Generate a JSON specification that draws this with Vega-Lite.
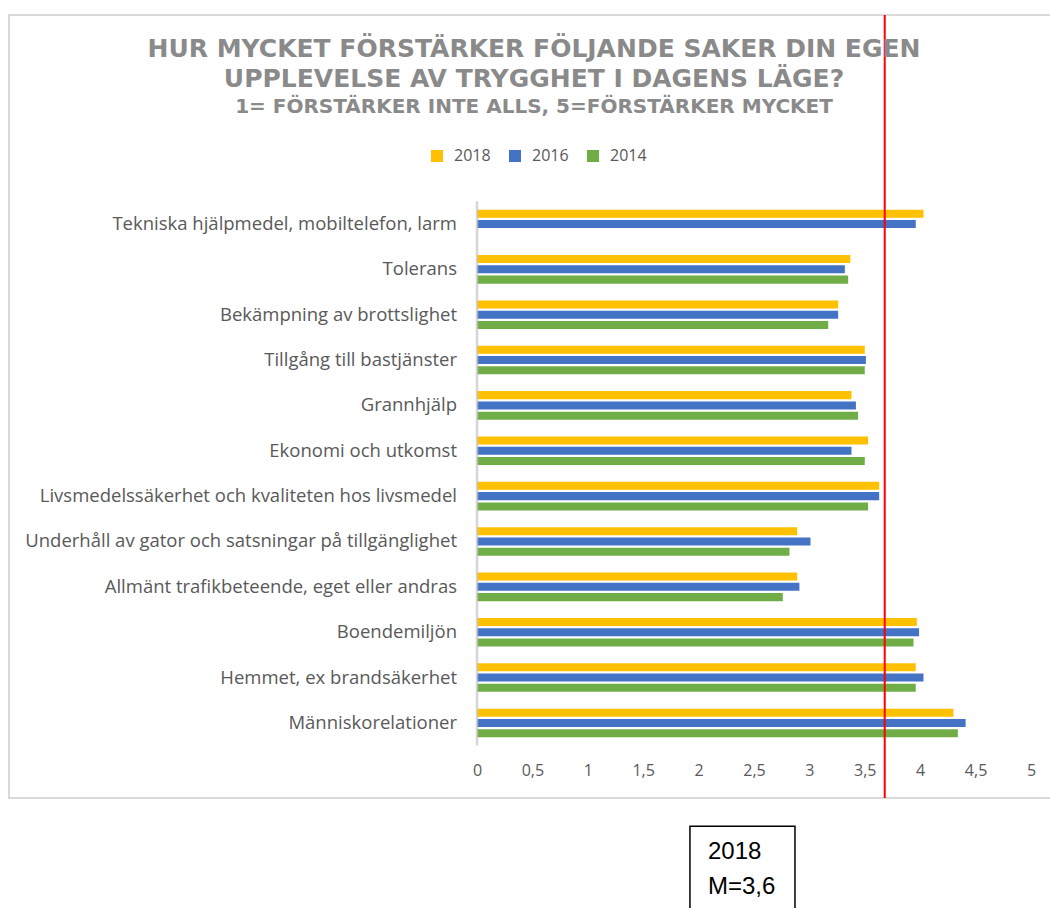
{
  "$schema": "https://vega.github.io/schema/vega-lite/v6.json",
  "padding": {"left": 8, "top": 13, "right": 0, "bottom": 0},
  "spacing": 0,
  "background": "white",
  "config": {"view": {"stroke": null}, "font": "Open Sans"},
  "vconcat": [
    {
      "width": 1050,
      "height": 783,
      "view": {"stroke": "#d9d9d9", "strokeWidth": 2},
      "title": {
        "text": ["HUR MYCKET FÖRSTÄRKER FÖLJANDE SAKER DIN EGEN", "UPPLEVELSE AV TRYGGHET I DAGENS LÄGE?"],
        "subtitle": "1= FÖRSTÄRKER INTE ALLS, 5=FÖRSTÄRKER MYCKET",
        "anchor": "middle",
        "frame": "group",
        "offset": -103,
        "font": "DejaVu Sans",
        "fontSize": 25,
        "fontWeight": "bold",
        "color": "#8a8a8a",
        "lineHeight": 30,
        "subtitleFont": "DejaVu Sans",
        "subtitleFontSize": 20,
        "subtitleFontWeight": "bold",
        "subtitleColor": "#8a8a8a",
        "subtitlePadding": 5
      },
      "data": {"values": [
        {"kategori": "Tekniska hjälpmedel, mobiltelefon, larm", "ar": "2018", "medel": 4.03},
        {"kategori": "Tekniska hjälpmedel, mobiltelefon, larm", "ar": "2016", "medel": 3.96},
        {"kategori": "Tolerans", "ar": "2018", "medel": 3.37},
        {"kategori": "Tolerans", "ar": "2016", "medel": 3.32},
        {"kategori": "Tolerans", "ar": "2014", "medel": 3.35},
        {"kategori": "Bekämpning av brottslighet", "ar": "2018", "medel": 3.26},
        {"kategori": "Bekämpning av brottslighet", "ar": "2016", "medel": 3.26},
        {"kategori": "Bekämpning av brottslighet", "ar": "2014", "medel": 3.17},
        {"kategori": "Tillgång till bastjänster", "ar": "2018", "medel": 3.50},
        {"kategori": "Tillgång till bastjänster", "ar": "2016", "medel": 3.51},
        {"kategori": "Tillgång till bastjänster", "ar": "2014", "medel": 3.50},
        {"kategori": "Grannhjälp", "ar": "2018", "medel": 3.38},
        {"kategori": "Grannhjälp", "ar": "2016", "medel": 3.42},
        {"kategori": "Grannhjälp", "ar": "2014", "medel": 3.44},
        {"kategori": "Ekonomi och utkomst", "ar": "2018", "medel": 3.53},
        {"kategori": "Ekonomi och utkomst", "ar": "2016", "medel": 3.38},
        {"kategori": "Ekonomi och utkomst", "ar": "2014", "medel": 3.50},
        {"kategori": "Livsmedelssäkerhet och kvaliteten hos livsmedel", "ar": "2018", "medel": 3.63},
        {"kategori": "Livsmedelssäkerhet och kvaliteten hos livsmedel", "ar": "2016", "medel": 3.63},
        {"kategori": "Livsmedelssäkerhet och kvaliteten hos livsmedel", "ar": "2014", "medel": 3.53},
        {"kategori": "Underhåll av gator och satsningar på tillgänglighet", "ar": "2018", "medel": 2.89},
        {"kategori": "Underhåll av gator och satsningar på tillgänglighet", "ar": "2016", "medel": 3.01},
        {"kategori": "Underhåll av gator och satsningar på tillgänglighet", "ar": "2014", "medel": 2.82},
        {"kategori": "Allmänt trafikbeteende, eget eller andras", "ar": "2018", "medel": 2.89},
        {"kategori": "Allmänt trafikbeteende, eget eller andras", "ar": "2016", "medel": 2.91},
        {"kategori": "Allmänt trafikbeteende, eget eller andras", "ar": "2014", "medel": 2.76},
        {"kategori": "Boendemiljön", "ar": "2018", "medel": 3.97},
        {"kategori": "Boendemiljön", "ar": "2016", "medel": 3.99},
        {"kategori": "Boendemiljön", "ar": "2014", "medel": 3.94},
        {"kategori": "Hemmet, ex brandsäkerhet", "ar": "2018", "medel": 3.96},
        {"kategori": "Hemmet, ex brandsäkerhet", "ar": "2016", "medel": 4.03},
        {"kategori": "Hemmet, ex brandsäkerhet", "ar": "2014", "medel": 3.96},
        {"kategori": "Människorelationer", "ar": "2018", "medel": 4.30},
        {"kategori": "Människorelationer", "ar": "2016", "medel": 4.41},
        {"kategori": "Människorelationer", "ar": "2014", "medel": 4.34}
      ]},
      "layer": [
        {
          "mark": {"type": "bar"},
          "encoding": {
            "y": {
              "field": "kategori", "type": "nominal", "sort": null, "axis": null,
              "scale": {"range": [186.3, 730.6], "paddingInner": 0.37, "paddingOuter": 0.185}
            },
            "yOffset": {
              "field": "ar", "type": "nominal", "sort": ["2018", "2016", "2014"],
              "scale": {"domain": ["2018", "2016", "2014"], "paddingInner": 0.22}
            },
            "x": {
              "field": "medel", "type": "quantitative", "stack": null,
              "scale": {"domain": [-4.224, 5.253], "nice": false, "zero": false},
              "axis": {
                "values": [0, 0.5, 1, 1.5, 2, 2.5, 3, 3.5, 4, 4.5, 5],
                "labelExpr": "replace(format(datum.value, '~g'), '.', ',')",
                "domain": false, "ticks": false, "grid": false,
                "offset": -38, "labelPadding": 2,
                "labelColor": "#595959", "labelFontSize": 16, "labelFont": "Open Sans",
                "title": null
              }
            },
            "color": {
              "field": "ar", "type": "nominal",
              "scale": {"domain": ["2018", "2016", "2014"], "range": ["#FFC000", "#4472C4", "#70AD47"]},
              "legend": {
                "orient": "none", "legendX": 420, "legendY": 133,
                "direction": "horizontal", "columns": 3, "title": null,
                "symbolType": "square", "symbolSize": 144, "symbolStrokeWidth": 0,
                "labelFontSize": 16, "labelColor": "#595959", "labelFont": "Open Sans",
                "labelOffset": 9, "columnPadding": 16, "padding": 0
              }
            }
          }
        },
        {
          "transform": [{"filter": "datum.ar == '2018'"}],
          "mark": {"type": "tick", "color": "#c4c4c4", "thickness": 2.5, "size": 45.4},
          "encoding": {
            "x": {"datum": 0, "type": "quantitative"},
            "y": {"field": "kategori", "type": "nominal", "sort": null}
          }
        },
        {
          "transform": [{"filter": "datum.ar == '2018'"}],
          "mark": {"type": "text", "align": "right", "baseline": "middle", "dx": -20, "fontSize": 18.5, "color": "#595959", "font": "Open Sans"},
          "encoding": {
            "x": {"datum": 0, "type": "quantitative"},
            "y": {"field": "kategori", "type": "nominal", "sort": null},
            "text": {"field": "kategori"}
          }
        },
        {
          "data": {"values": [{"medelvarde": 3.68}]},
          "mark": {"type": "rule", "color": "#ff0000", "strokeWidth": 2},
          "encoding": {
            "x": {"field": "medelvarde", "type": "quantitative"}
          }
        }
      ]
    },
    {
      "width": 1050,
      "height": 112,
      "view": {"stroke": null},
      "data": {"values": [{"etikett": "2018\nM=3,6", "x0": 1.922, "x1": 2.87, "xt": 2.085}]},
      "layer": [
        {
          "mark": {"type": "rect", "fill": "white", "stroke": "#000000", "strokeWidth": 1.5, "clip": false},
          "encoding": {
            "x": {"field": "x0", "type": "quantitative", "scale": {"domain": [-4.224, 5.253], "nice": false, "zero": false}, "axis": null},
            "x2": {"field": "x1"},
            "y": {"datum": 0.235, "type": "quantitative", "scale": {"domain": [0, 1], "reverse": true, "nice": false}, "axis": null},
            "y2": {"datum": 1.2}
          }
        },
        {
          "mark": {"type": "text", "align": "left", "baseline": "alphabetic", "lineBreak": "\n", "lineHeight": 35, "fontSize": 24, "font": "Liberation Sans", "color": "#000000"},
          "encoding": {
            "x": {"field": "xt", "type": "quantitative"},
            "y": {"datum": 0.527, "type": "quantitative"},
            "text": {"field": "etikett"}
          }
        }
      ]
    }
  ]
}
